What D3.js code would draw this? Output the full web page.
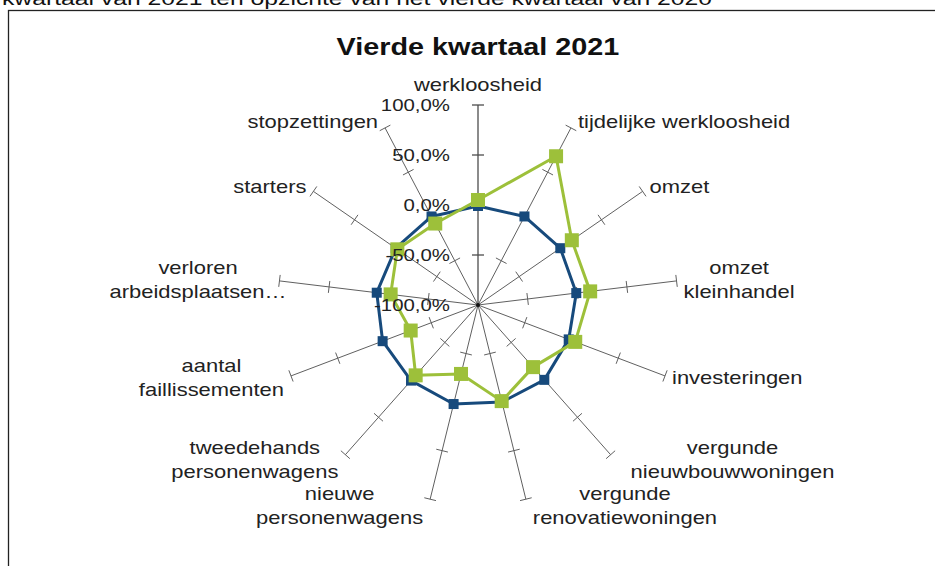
<!DOCTYPE html>
<html>
<head>
<meta charset="utf-8">
<script src="https://cdn.jsdelivr.net/npm/d3@7"></script>
<style>
  body { margin: 0; background: #fff; }
  svg { display: block; font-family: "Liberation Sans", Arial, sans-serif; }
</style>
</head>
<body>
<svg id="chart" width="935" height="566"></svg>
<script>
// Radar chart "Vierde kwartaal 2021"

// categories, clockwise from the top
const categories = [
  'werkloosheid',
  'tijdelijke werkloosheid',
  'omzet',
  'omzet\nkleinhandel',
  'investeringen',
  'vergunde\nnieuwbouwwoningen',
  'vergunde\nrenovatiewoningen',
  'nieuwe\npersonenwagens',
  'tweedehands\npersonenwagens',
  'aantal\nfaillissementen',
  'verloren\narbeidsplaatsen…',
  'starters',
  'stopzettingen'
];

const tickValues = [-100, -50, 0, 50, 100];

// change in %
const valuesBlue = [-1, 0, 0, -1, -3, 0, 0, 2, 1, 2, 2, 0, 0];
const valuesGreen = [5, 68, 14, 13, 4, -17, -1, -29, -6, -28, -12, -2, -8];

const pageTitle = 'kwartaal van 2021 ten opzichte van het vierde kwartaal van 2020';
const chartTitle = 'Vierde kwartaal 2021';

// layout
const cx = 478, cy = 305, radius = 200;
const stretch = 1.22;         // text in the picture is drawn a bit wide
const lineHeight = 24;
const blue = '#174a7c', green = '#9dc03a';
const axisColor = '#606060';
// extra horizontal shift for a few labels (Excel places them oddly)
const labelNudge = { 5: 13, 10: 14 };

const svg = d3.select('#chart');
const step = 2 * Math.PI / categories.length;

const r = d3.scaleLinear().domain([-100, 100]).range([0, radius]);
const pt = (a, rr) => [cx + rr * Math.sin(a), cy - rr * Math.cos(a)];

// White background + frame
svg.append('rect').attr('width', 935).attr('height', 566).attr('fill', '#fff');
svg.append('rect')
  .attr('x', 8.5).attr('y', 10.5)
  .attr('width', 1000).attr('height', 1000)
  .attr('fill', 'none')
  .attr('stroke', '#222')
  .attr('stroke-width', 1.3);

// Clipped sentence above the frame
svg.append('text')
  .attr('x', 2).attr('y', 5)
  .attr('font-size', 19)
  .attr('fill', '#111')
  .attr('textLength', 710)
  .attr('lengthAdjust', 'spacingAndGlyphs')
  .text(pageTitle);

// Title
svg.append('g')
  .attr('transform', `translate(${cx},55) scale(1.2,1)`)
  .append('text')
  .attr('text-anchor', 'middle')
  .attr('font-size', 24)
  .attr('font-weight', 'bold')
  .attr('fill', '#111')
  .text(chartTitle);

// Spokes with tick marks
const spokes = svg.append('g');
categories.forEach((c, i) => {
  const a = i * step;
  const end = pt(a, radius);
  spokes.append('line')
    .attr('x1', cx).attr('y1', cy)
    .attr('x2', end[0]).attr('y2', end[1])
    .attr('stroke', i === 0 ? '#4d4d4d' : axisColor)
    .attr('stroke-width', i === 0 ? 1.3 : 1);

  tickValues.filter(v => r(v) > 0).forEach(v => {
    const p = pt(a, r(v));
    const px = Math.cos(a) * 6, py = Math.sin(a) * 6;
    spokes.append('line')
      .attr('x1', p[0] - px).attr('y1', p[1] - py)
      .attr('x2', p[0] + px).attr('y2', p[1] + py)
      .attr('stroke', i === 0 ? '#4d4d4d' : axisColor)
      .attr('stroke-width', i === 0 ? 1.3 : 1);
  });
});
spokes.append('circle').attr('cx', cx).attr('cy', cy).attr('r', 2).attr('fill', '#111');

// Series
const radar = d3.lineRadial()
  .angle((d, i) => i * step)
  .radius(d => r(d))
  .curve(d3.curveLinearClosed);

function drawSeries(values, color, markerSize) {
  const g = svg.append('g');
  g.append('path')
    .attr('transform', `translate(${cx},${cy})`)
    .attr('d', radar(values))
    .attr('fill', 'none')
    .attr('stroke', color)
    .attr('stroke-width', 3)
    .attr('stroke-linejoin', 'round');
  g.selectAll('rect')
    .data(values)
    .enter().append('rect')
    .attr('x', (d, i) => pt(i * step, r(d))[0] - markerSize / 2)
    .attr('y', (d, i) => pt(i * step, r(d))[1] - markerSize / 2)
    .attr('width', markerSize)
    .attr('height', markerSize)
    .attr('fill', color);
}

drawSeries(valuesBlue, blue, 10);
drawSeries(valuesGreen, green, 14);

// Value axis labels (plain hyphen, comma decimals)
const fmt = v => d3.format('.1f')(v).replace('\u2212', '-').replace('.', ',') + '%';
tickValues.forEach(v => {
  svg.append('g')
    .attr('transform', `translate(${cx - 28},${cy - r(v) + 6}) scale(1.2,1)`)
    .append('text')
    .attr('text-anchor', 'end')
    .attr('font-size', 17)
    .attr('fill', '#222')
    .text(fmt(v));
});

// Category labels
categories.forEach((c, i) => {
  const a = i * step;
  const s = Math.sin(a), co = Math.cos(a);
  const end = pt(a, radius);
  const lines = c.split('\n');
  const g = svg.append('g');
  const inner = g.append('g').attr('transform', `scale(${stretch},1)`);
  lines.forEach((t, k) => {
    inner.append('text')
      .attr('text-anchor', 'middle')
      .attr('y', k * lineHeight)
      .attr('font-size', 18)
      .attr('fill', '#222')
      .text(t);
  });
  const w = d3.max(inner.selectAll('text').nodes(), n => n.getComputedTextLength()) * stretch;
  const h = lines.length * lineHeight;
  let x, yc;
  if (Math.abs(s) < 0.15) {
    x = end[0];
    yc = end[1] - co * (h / 2 + 8);
  } else {
    x = end[0] + (s > 0 ? 1 : -1) * (7 + w / 2);
    yc = end[1] - co * 7;
  }
  x += labelNudge[i] || 0;
  // first baseline sits so the block is centred on yc
  const y0 = yc - h / 2 + lineHeight / 2 + 6;
  g.attr('transform', `translate(${x},${y0})`);
});
</script>
</body>
</html>
